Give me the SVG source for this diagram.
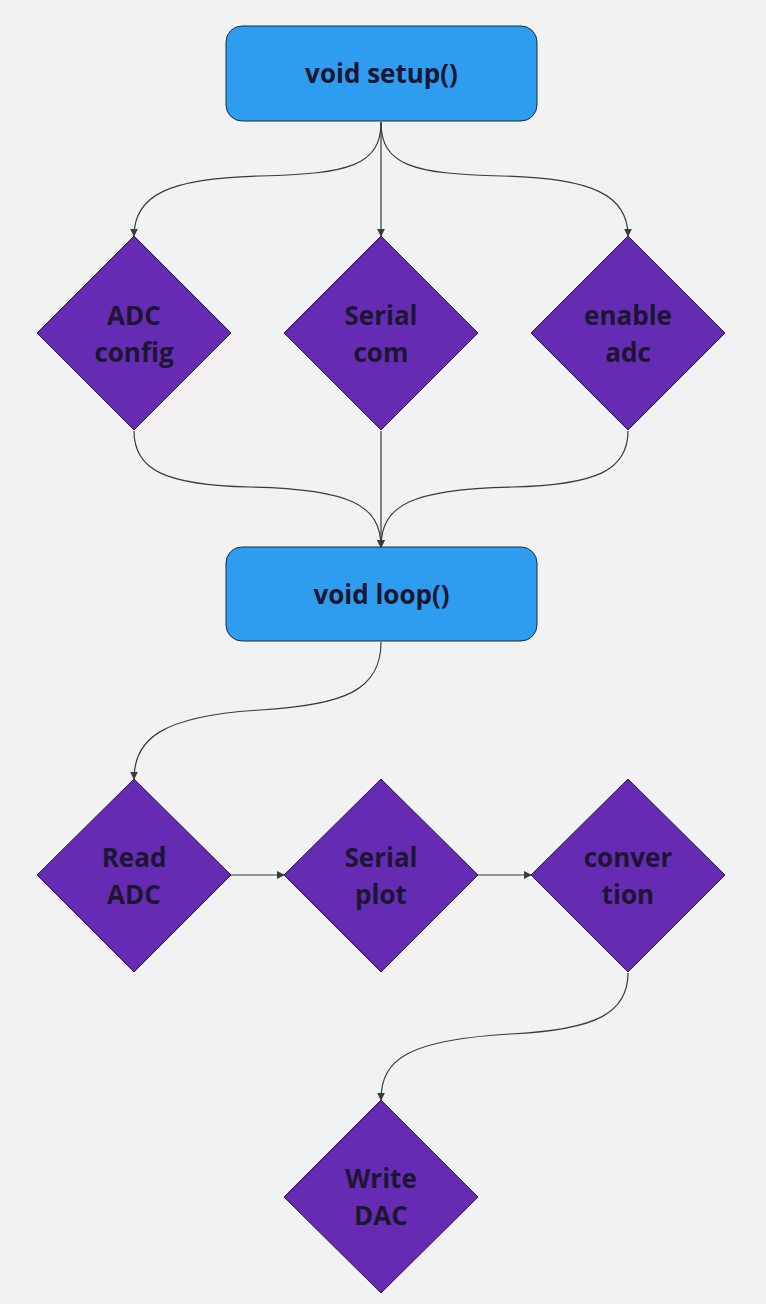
<svg xmlns="http://www.w3.org/2000/svg" width="766" height="1304" viewBox="0 0 766 1304">
<defs>
<style>
.box{fill:#2e9cef;stroke:#1b2a3a;stroke-width:1}
.dia{fill:#652bb3;stroke:#2a1a4a;stroke-width:1}
.t{font-family:"Open Sans","Noto Sans",sans-serif;font-weight:bold;font-size:26px;fill:#1c1630;text-anchor:middle}
.c{fill:none;stroke:#3a3a3a;stroke-width:1.2;marker-end:url(#ah)}
</style>
<marker id="ah" viewBox="0 0 10 10" refX="9" refY="5" markerWidth="8" markerHeight="8" markerUnits="userSpaceOnUse" orient="auto">
<path d="M0,0 L10,5 L0,10 z" fill="#3a3a3a"/>
</marker>
</defs>
<rect width="766" height="1304" fill="#f2f2f2"/>
<g id="connectors">
<path class="c" d="M381,122 C381,165 350,174 260,176 C170,178 134,195 134,236"/>
<path class="c" d="M381,122 L381,236"/>
<path class="c" d="M381,122 C381,165 412,174 502,176 C592,178 628,195 628,236"/>
<path class="c" d="M134,431 C134,470 165,485 250,487 C350,489 381,505 381,547"/>
<path class="c" d="M381,431 L381,547"/>
<path class="c" d="M628,431 C628,470 597,485 512,487 C412,489 381,505 381,547"/>
<path class="c" d="M381,642 C381,690 345,705 260,710 C160,716 134,740 134,779"/>
<path class="c" d="M231,875 L284,875"/>
<path class="c" d="M478,875 L531,875"/>
<path class="c" d="M628,973 C628,1012 598,1030 510,1034 C410,1040 381,1058 381,1100"/>
</g>
<g id="setup">
<rect class="box" x="226" y="26" width="311" height="95" rx="16"/>
<text class="t" x="381.5" y="83">void setup()</text>
</g>
<g id="adc-config">
<polygon class="dia" points="134,236 231,333 134,430 37,333"/>
<text class="t" x="134" y="325">ADC</text>
<text class="t" x="134" y="362">config</text>
</g>
<g id="serial-com">
<polygon class="dia" points="381,236 478,333 381,430 284,333"/>
<text class="t" x="381" y="325">Serial</text>
<text class="t" x="381" y="362">com</text>
</g>
<g id="enable-adc">
<polygon class="dia" points="628,236 725,333 628,430 531,333"/>
<text class="t" x="628" y="325">enable</text>
<text class="t" x="628" y="362">adc</text>
</g>
<g id="loop">
<rect class="box" x="226" y="547" width="311" height="94" rx="16"/>
<text class="t" x="381.5" y="604">void loop()</text>
</g>
<g id="read-adc">
<polygon class="dia" points="134,779 231,875 134,972 37,875"/>
<text class="t" x="134" y="867">Read</text>
<text class="t" x="134" y="904">ADC</text>
</g>
<g id="serial-plot">
<polygon class="dia" points="381,779 478,875 381,972 284,875"/>
<text class="t" x="381" y="867">Serial</text>
<text class="t" x="381" y="904">plot</text>
</g>
<g id="convertion">
<polygon class="dia" points="628,779 725,875 628,972 531,875"/>
<text class="t" x="628" y="867">conver</text>
<text class="t" x="628" y="904">tion</text>
</g>
<g id="write-dac">
<polygon class="dia" points="381,1100 478,1197 381,1293 284,1197"/>
<text class="t" x="381" y="1188">Write</text>
<text class="t" x="381" y="1225">DAC</text>
</g>
</svg>
